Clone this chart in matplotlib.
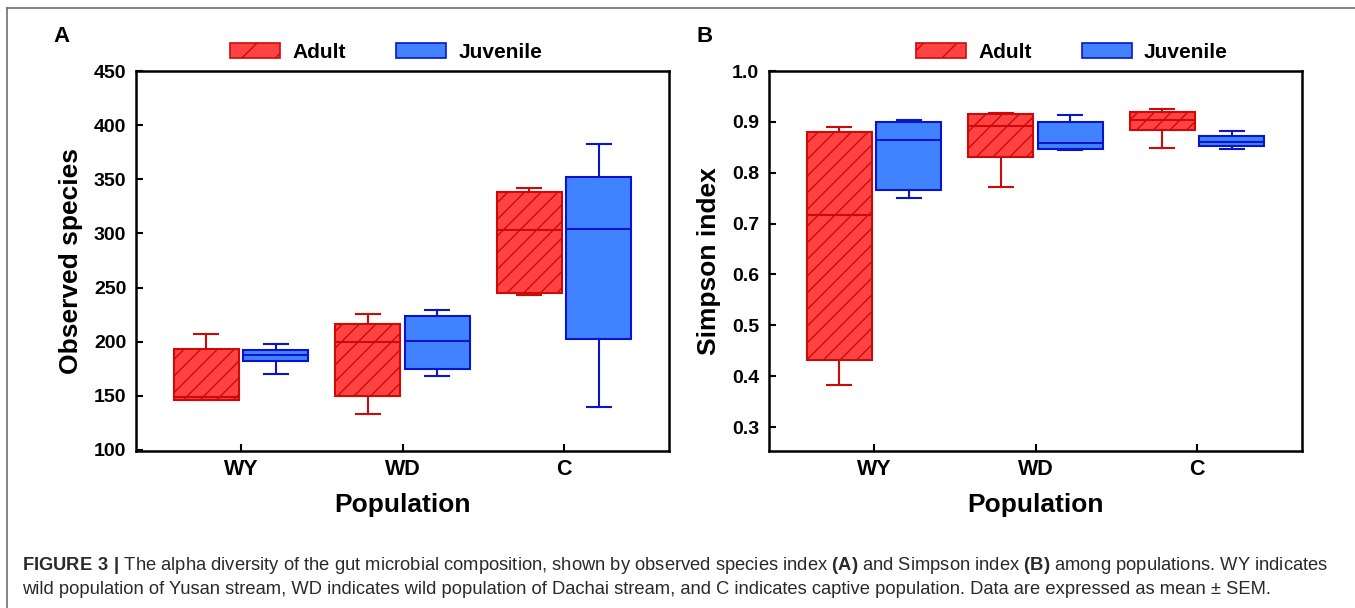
import matplotlib.pyplot as plt
from matplotlib.patches import Patch
from matplotlib.lines import Line2D

plt.rcParams['font.family'] = ['Liberation Sans', 'DejaVu Sans']
plt.rcParams['mathtext.fontset'] = 'custom'
plt.rcParams['mathtext.rm'] = 'Liberation Sans'
plt.rcParams['mathtext.bf'] = 'Liberation Sans:bold'
plt.rcParams['hatch.linewidth'] = 1.0

groups = ['WY', 'WD', 'C']

# box stats: (whisker low, q1, median, q3, whisker high)
obs_adult = [(145.7, 145.7, 149.0, 193.3, 206.7),
             (133.2, 150.0, 199.7, 216.5, 225.9),
             (243.0, 245.1, 303.5, 338.3, 342.0)]
obs_juv = [(169.8, 182.3, 188.1, 192.7, 197.9),
           (168.0, 174.7, 200.9, 223.5, 229.0),
           (139.3, 202.4, 304.0, 352.0, 382.6)]

simp_adult = [(0.382, 0.4325, 0.717, 0.8804, 0.8908),
              (0.7716, 0.830, 0.8928, 0.9164, 0.9177),
              (0.8483, 0.8836, 0.9046, 0.9196, 0.9249)]
simp_juv = [(0.7507, 0.7664, 0.8653, 0.900, 0.9033),
            (0.845, 0.8476, 0.8587, 0.900, 0.9138),
            (0.8463, 0.8535, 0.860, 0.8725, 0.8817)]

red_fill, red_edge = '#FF4242', '#CC0A0A'
blue_fill, blue_edge = '#4182FF', '#0A14CC'


def to_stats(rows):
    return [dict(whislo=r[0], q1=r[1], med=r[2], q3=r[3], whishi=r[4], fliers=[]) for r in rows]


def draw_boxes(ax, rows, offset, fill, edge, hatch):
    pos = [i + 1 + offset for i in range(len(rows))]
    line = dict(color=edge, linewidth=1.5)
    ax.bxp(to_stats(rows), positions=pos, widths=0.4, capwidths=0.15,
           patch_artist=True, showfliers=False,
           boxprops=dict(facecolor=fill, edgecolor=edge, linewidth=1.5, hatch=hatch),
           medianprops=line, whiskerprops=line, capprops=line)


def style_axes(ax, yticks, ylim, ylabel, fmt):
    ax.set_xlim(0.35, 3.65)
    ax.set_ylim(*ylim)
    ax.set_xticks([1, 2, 3])
    ax.set_xticklabels(groups, fontsize=15.5, fontweight='bold')
    ax.set_yticks(yticks)
    ax.set_yticklabels([fmt.format(v) for v in yticks], fontsize=14, fontweight='bold')
    ax.tick_params(axis='both', direction='in', length=5, width=1.5, pad=7)
    ax.tick_params(axis='x', pad=6)
    for s in ax.spines.values():
        s.set_linewidth(1.8)
        s.set_color('black')
    ax.set_xlabel('Population', fontsize=19, fontweight='bold', labelpad=9)
    ax.set_ylabel(ylabel, fontsize=19, fontweight='bold', labelpad=8)


fig = plt.figure(figsize=(13.55, 6.08), dpi=100)
axA = fig.add_axes([136 / 1355, 1 - 451 / 608, 533 / 1355, 380 / 608])
axB = fig.add_axes([769 / 1355, 1 - 451 / 608, 533 / 1355, 380 / 608])

for ax, adult, juv in [(axA, obs_adult, obs_juv), (axB, simp_adult, simp_juv)]:
    draw_boxes(ax, adult, -0.215, red_fill, red_edge, '//')
    draw_boxes(ax, juv, 0.215, blue_fill, blue_edge, None)

style_axes(axA, [100, 150, 200, 250, 300, 350, 400, 450], (99, 450), 'Observed species', '{:.0f}')
style_axes(axB, [0.3, 0.4, 0.5, 0.6, 0.7, 0.8, 0.9, 1.0], (0.253, 1.0), 'Simpson index', '{:.1f}')

# legends above each panel
handles = [Patch(facecolor=red_fill, edgecolor=red_edge, hatch='/', linewidth=1.2, label='Adult'),
           Patch(facecolor=blue_fill, edgecolor=blue_edge, linewidth=1.2, label='Juvenile')]
for ax, xc in [(axA, 0.469), (axB, 0.568)]:
    ax.legend(handles=handles, loc='center', bbox_to_anchor=(xc, 1.05), ncol=2, frameon=False,
              prop=dict(size=15, weight='bold'), handlelength=2.4, handleheight=0.75,
              handletextpad=0.6, columnspacing=2.4, borderaxespad=0)

fig.text(62 / 1355, 1 - 37 / 608, 'A', fontsize=16, fontweight='bold', ha='center', va='center')
fig.text(705 / 1355, 1 - 37 / 608, 'B', fontsize=16, fontweight='bold', ha='center', va='center')

# frame lines of the figure box
fig.add_artist(Line2D([7 / 1355, 1], [1 - 8 / 608, 1 - 8 / 608], color='#707070', linewidth=1.2))
fig.add_artist(Line2D([7 / 1355, 7 / 1355], [0, 1 - 8 / 608], color='#707070', linewidth=1.2))

# caption
line1 = (r'$\bf{FIGURE\ 3\ |}$ The alpha diversity of the gut microbial composition, shown by observed '
         r'species index $\bf{(A)}$ and Simpson index $\bf{(B)}$ among populations. WY indicates')
line2 = ('wild population of Yusan stream, WD indicates wild population of Dachai stream, and C indicates '
         'captive population. Data are expressed as mean \u00b1 SEM.')
fig.text(22 / 1355, 1 - 565 / 608, line1, fontsize=13.2, va='center', color='#2a2a2a')
fig.text(22 / 1355, 1 - 590 / 608, line2, fontsize=13.2, va='center', color='#2a2a2a')

fig.savefig('out.png', dpi=100)
